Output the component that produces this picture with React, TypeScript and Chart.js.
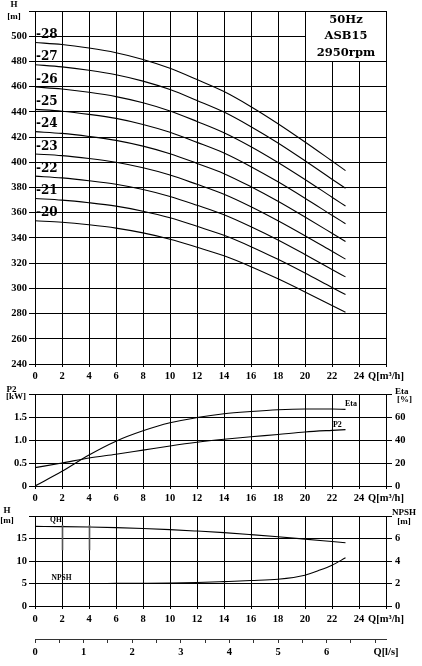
import React, { useEffect, useRef } from "react";
import { Chart, registerables } from "chart.js";

Chart.register(...registerables);

// ---------- data ----------
const Q_POINTS = [0, 2, 4, 6, 8, 10, 12, 14, 16, 18, 20, 22, 23];
const STAGE_LABELS = ["-20", "-21", "-22", "-23", "-24", "-25", "-26", "-27", "-28"];
const H_20 = [353.6, 352.4, 350.4, 347.8, 344.0, 339.0, 332.6, 325.8, 317.2, 307.6, 297.2, 286.4, 281.0];
const H_21 = [371.3, 370.0, 367.9, 365.2, 361.2, 356.0, 349.2, 342.1, 333.1, 323.0, 312.1, 300.7, 295.1];
const H_22 = [389.0, 387.6, 385.4, 382.6, 378.4, 372.9, 365.9, 358.4, 348.9, 338.4, 326.9, 315.0, 309.1];
const H_23 = [406.6, 405.3, 403.0, 400.0, 395.6, 389.9, 382.5, 374.7, 364.8, 353.7, 341.8, 329.4, 323.2];
const H_24 = [424.3, 422.9, 420.5, 417.4, 412.8, 406.8, 399.1, 391.0, 380.6, 369.1, 356.6, 343.7, 337.2];
const H_25 = [442.0, 440.5, 438.0, 434.8, 430.0, 423.8, 415.8, 407.3, 396.5, 384.5, 371.5, 358.0, 351.3];
const H_26 = [459.7, 458.1, 455.5, 452.1, 447.2, 440.7, 432.4, 423.5, 412.4, 399.9, 386.4, 372.3, 365.3];
const H_27 = [477.4, 475.7, 473.0, 469.5, 464.4, 457.7, 449.0, 439.8, 428.2, 415.3, 401.2, 386.6, 379.4];
const H_28 = [495.0, 493.4, 490.6, 486.9, 481.6, 474.6, 465.6, 456.1, 444.1, 430.6, 416.1, 401.0, 393.4];
const H_STAGES = [H_20, H_21, H_22, H_23, H_24, H_25, H_26, H_27, H_28];

const INFO_LINES = ["50Hz", "ASB15", "2950rpm"];
const Q_UNIT_LABEL = "Q[m³/h]";
const QLS_UNIT_LABEL = "Q[l/s]";

const P2_KW = [0.4, 0.5, 0.61, 0.69, 0.78, 0.87, 0.95, 1.015, 1.07, 1.12, 1.175, 1.21, 1.225];
const ETA_PCT = [0, 12.8, 27, 39, 48, 55, 59.5, 62.8, 64.8, 66.3, 66.9, 66.9, 66.6];

const QH_M = [17.7, 17.64, 17.55, 17.42, 17.22, 16.97, 16.65, 16.3, 15.86, 15.38, 14.86, 14.32, 14.05];
const Q_NPSH = [0, 2, 4, 6, 8, 10, 12, 14, 16, 18, 20, 21, 22, 23];
const NPSH_M = [2.0, 2.0, 2.0, 2.01, 2.02, 2.04, 2.09, 2.17, 2.26, 2.38, 2.74, 3.15, 3.63, 4.28];

const Q_MAX = 26;
const QLS_MAX = 26 / 3.6;
const QLS_LABELS = [0, 1, 2, 3, 4, 5, 6];

// ---------- styles ----------
const SERIF = "'Liberation Serif', 'Times New Roman', serif";
const DSERIF = "'DejaVu Serif', serif";
const TICK_FONT = { family: SERIF, size: 10.5, weight: "bold" as const };
const GRID = "#000";
const INK = "#000";

const pts = (xs: number[], ys: number[]) => xs.map((x, i) => ({ x, y: ys[i] }));

const lineDs = (data: { x: number; y: number }[], yAxisID = "y") => ({
  data,
  yAxisID,
  borderColor: INK,
  borderWidth: 1.1,
  pointRadius: 0,
  fill: false,
  cubicInterpolationMode: "monotone" as const,
});

const makeX = (height: number, pad: number) => ({
  type: "linear" as const,
  min: 0,
  max: Q_MAX,
  ticks: {
    stepSize: 2,
    autoSkip: false,
    maxRotation: 0,
    padding: pad,
    color: INK,
    font: TICK_FONT,
    callback: (v: any) => (Number(v) === Q_MAX ? Q_UNIT_LABEL : String(v)),
  },
  grid: { color: GRID, lineWidth: 1, tickLength: 3 },
  border: { color: GRID, width: 1 },
  afterFit: (s: any) => {
    s.height = height;
  },
});

const makeYLeft = (min: number, max: number, step: number, fmt: (v: number) => string) => ({
  type: "linear" as const,
  position: "left" as const,
  min,
  max,
  ticks: {
    stepSize: step,
    padding: 2,
    color: INK,
    font: TICK_FONT,
    callback: (v: any) => (Number(v) === max ? "" : fmt(Number(v))),
  },
  grid: { color: GRID, lineWidth: 1, tickLength: 6 },
  border: { color: GRID, width: 1 },
  afterFit: (s: any) => {
    s.width = 35;
  },
});

const makeYRight = (min: number, max: number, step: number) => ({
  type: "linear" as const,
  position: "right" as const,
  min,
  max,
  ticks: {
    stepSize: step,
    padding: 3,
    color: INK,
    font: TICK_FONT,
    callback: (v: any) => (Number(v) === max ? "" : String(v)),
  },
  grid: { drawOnChartArea: false, color: GRID, lineWidth: 1, tickLength: 6 },
  border: { color: GRID, width: 1 },
  afterFit: (s: any) => {
    s.width = 36;
  },
});

const baseOptions = (padding: any, scales: any) => ({
  responsive: false,
  animation: false as const,
  events: [] as any[],
  layout: { padding },
  plugins: { legend: { display: false }, tooltip: { enabled: false } },
  scales,
});

const align = (p: number) => Math.round(p - 0.5) + 0.5;

const text = (
  ctx: CanvasRenderingContext2D,
  s: string,
  x: number,
  y: number,
  font: string,
  alignH: CanvasTextAlign = "center"
) => {
  ctx.font = font;
  ctx.fillStyle = INK;
  ctx.textAlign = alignH;
  ctx.textBaseline = "middle";
  ctx.fillText(s, x, y);
};

// ---------- plugins ----------
const topPlugin = {
  id: "topDecor",
  afterDraw(chart: any) {
    const { ctx, scales } = chart;
    const x = scales.x;
    const y = scales.y;
    ctx.save();
    H_STAGES.forEach((vals, i) => {
      text(ctx, STAGE_LABELS[i], x.getPixelForValue(0) + 1, y.getPixelForValue(vals[0] + 6), `bold 12px ${DSERIF}`, "left");
    });
    const bx0 = align(x.getPixelForValue(20));
    const bx1 = align(x.getPixelForValue(26));
    const by0 = align(y.getPixelForValue(520));
    const by1 = align(y.getPixelForValue(480));
    ctx.fillStyle = "#fff";
    ctx.fillRect(bx0, by0, bx1 - bx0, by1 - by0);
    ctx.strokeStyle = GRID;
    ctx.lineWidth = 1;
    ctx.strokeRect(bx0, by0, bx1 - bx0, by1 - by0);
    const cx = (bx0 + bx1) / 2;
    INFO_LINES.forEach((s, i) => text(ctx, s, cx, by0 + 8.5 + i * 16.5, `bold 11.5px ${DSERIF}`));
    const top = y.getPixelForValue(520);
    text(ctx, "H", 14, top - 6.5, `bold 9px ${SERIF}`);
    text(ctx, "[m]", 14, top + 5.5, `bold 9px ${SERIF}`);
    ctx.restore();
  },
};

const midPlugin = {
  id: "midDecor",
  afterDraw(chart: any) {
    const { ctx, scales } = chart;
    const x = scales.x;
    const y = scales.y;
    const y2 = scales.y2;
    ctx.save();
    const top = y.getPixelForValue(2);
    text(ctx, "P2", 6.5, top - 4, `bold 9px ${SERIF}`, "left");
    text(ctx, "[kW]", 6, top + 3, `bold 9px ${SERIF}`, "left");
    text(ctx, "Eta", 395, top - 2, `bold 9px ${SERIF}`, "left");
    text(ctx, "[%]", 397, top + 5.5, `bold 9px ${SERIF}`, "left");
    text(ctx, "Eta", x.getPixelForValue(23.4), y2.getPixelForValue(71), `bold 8px ${SERIF}`);
    text(ctx, "P2", x.getPixelForValue(22.4), y.getPixelForValue(1.33), `bold 8px ${SERIF}`);
    ctx.restore();
  },
};

const botPlugin = {
  id: "botDecor",
  afterDraw(chart: any) {
    const { ctx, scales } = chart;
    const x = scales.x;
    const y = scales.y;
    const y2 = scales.y2;
    ctx.save();
    const top = y.getPixelForValue(20);
    text(ctx, "H", 7, top - 5, `bold 9px ${SERIF}`);
    text(ctx, "[m]", 7, top + 4.5, `bold 9px ${SERIF}`);
    text(ctx, "NPSH", 404, top - 3, `bold 9px ${SERIF}`);
    text(ctx, "[m]", 404, top + 6, `bold 9px ${SERIF}`);
    text(ctx, "QH", x.getPixelForValue(1.55), y.getPixelForValue(19.0), `bold 7.5px ${SERIF}`);
    text(ctx, "NPSH", x.getPixelForValue(1.96), y2.getPixelForValue(2.48), `bold 7.5px ${SERIF}`);
    ctx.strokeStyle = "#555";
    ctx.lineWidth = 1.6;
    [2, 4].forEach((q) => {
      const px = align(x.getPixelForValue(q));
      ctx.beginPath();
      ctx.moveTo(px, y.getPixelForValue(18));
      ctx.lineTo(px, y.getPixelForValue(12.4));
      ctx.stroke();
    });
    ctx.restore();
  },
};

// ---------- configs ----------
const topConfig = (): any => ({
  type: "line",
  data: { datasets: H_STAGES.map((vals) => lineDs(pts(Q_POINTS, vals))) },
  options: baseOptions(
    { left: 0, right: 36, top: 11, bottom: 0 },
    {
      x: makeX(26, 3),
      y: makeYLeft(240, 520, 20, (v) => String(v)),
    }
  ),
  plugins: [topPlugin],
});

const midConfig = (): any => ({
  type: "line",
  data: {
    datasets: [lineDs(pts(Q_POINTS, P2_KW), "y"), lineDs(pts(Q_POINTS, ETA_PCT), "y2")],
  },
  options: baseOptions(
    { left: 0, right: 0, top: 16, bottom: 0 },
    {
      x: makeX(24, 3),
      y: makeYLeft(0, 2, 0.5, (v) => (v === 0 ? "0" : v.toFixed(1))),
      y2: makeYRight(0, 80, 20),
    }
  ),
  plugins: [midPlugin],
});

const botConfig = (): any => ({
  type: "line",
  data: {
    datasets: [lineDs(pts(Q_POINTS, QH_M), "y"), lineDs(pts(Q_NPSH, NPSH_M), "y2")],
  },
  options: baseOptions(
    { left: 0, right: 0, top: 11, bottom: 0 },
    {
      x: makeX(26, 4),
      y: makeYLeft(0, 20, 5, (v) => String(v)),
      y2: makeYRight(0, 8, 2),
    }
  ),
  plugins: [botPlugin],
});

const lsConfig = (): any => ({
  type: "line",
  data: { datasets: [] },
  options: baseOptions(
    { left: 35, right: 36, top: 0, bottom: 0 },
    {
      x: {
        type: "linear",
        min: 0,
        max: QLS_MAX,
        afterBuildTicks: (s: any) => {
          s.ticks.push({ value: QLS_MAX });
        },
        ticks: {
          stepSize: 0.5,
          includeBounds: false,
          autoSkip: false,
          maxRotation: 0,
          padding: 3,
          color: INK,
          font: TICK_FONT,
          callback: (v: any) => {
            const n = Number(v);
            if (n > 7.1) return QLS_UNIT_LABEL;
            const r = Math.round(n);
            return Math.abs(n - r) < 1e-9 && QLS_LABELS.includes(r) ? String(r) : "";
          },
        },
        grid: {
          drawOnChartArea: false,
          tickLength: 4,
          lineWidth: 1,
          color: (c: any) => (c.tick && c.tick.value > 7.1 ? "rgba(0,0,0,0)" : "#333"),
        },
        border: { color: "#333", width: 1 },
        afterFit: (s: any) => {
          s.height = 27;
        },
      },
      y: { display: false, min: 0, max: 1 },
    }
  ),
});

export default function App() {
  const r1 = useRef<HTMLCanvasElement>(null);
  const r2 = useRef<HTMLCanvasElement>(null);
  const r3 = useRef<HTMLCanvasElement>(null);
  const r4 = useRef<HTMLCanvasElement>(null);

  useEffect(() => {
    const charts = [
      new Chart(r1.current as HTMLCanvasElement, topConfig()),
      new Chart(r2.current as HTMLCanvasElement, midConfig()),
      new Chart(r3.current as HTMLCanvasElement, botConfig()),
      new Chart(r4.current as HTMLCanvasElement, lsConfig()),
    ];
    return () => charts.forEach((c) => c.destroy());
  }, []);

  const abs = (top: number): React.CSSProperties => ({ position: "absolute", left: 0, top, display: "block" });

  return (
    <div style={{ position: "fixed", left: 0, top: 0, width: 422, height: 666, background: "#fff", overflow: "hidden" }}>
      <canvas ref={r1} width={422} height={390} style={abs(0)} />
      <canvas ref={r2} width={422} height={132} style={abs(378)} />
      <canvas ref={r3} width={422} height={127} style={abs(505)} />
      <canvas ref={r4} width={422} height={46} style={abs(620)} />
    </div>
  );
}
